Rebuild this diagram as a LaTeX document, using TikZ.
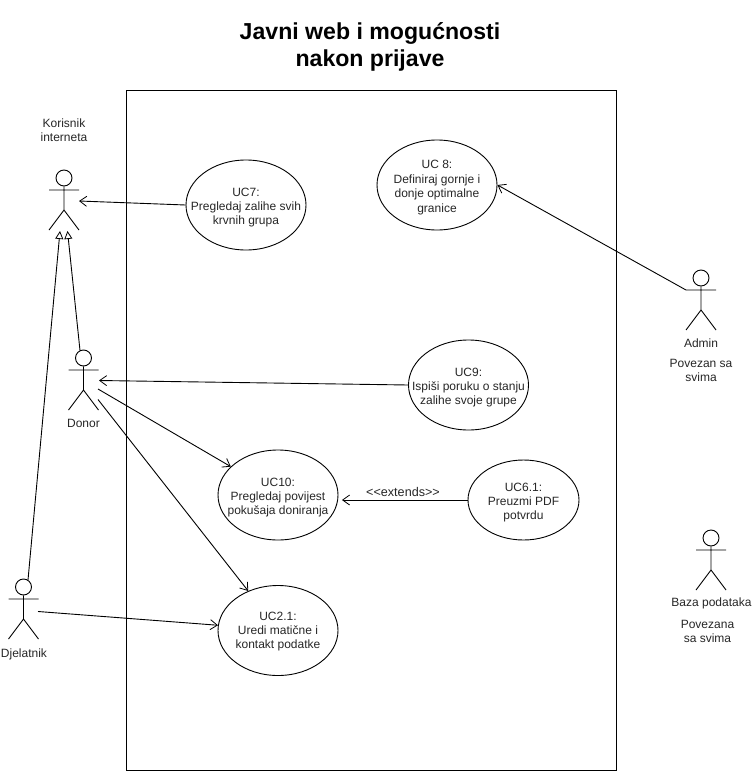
\documentclass[tikz,border=0pt]{standalone}
\usepackage{fontspec}
\setmainfont{Liberation Sans}
\usetikzlibrary{shapes.geometric,arrows.meta}
\tikzset{
  x=1pt,y=-1pt,
  line/.style={draw=black,line width=0.9pt},
  txt/.style={inner sep=0pt,align=center,font=\fontsize{12}{14.4}\selectfont,text=black!85},
  uc/.style={ellipse,line,minimum width=120pt,minimum height=90pt,inner sep=0pt},
  uctext/.style={txt,yshift=-2.5pt},
  head/.style={circle,line,minimum size=16pt,inner sep=0pt},
  assoc/.style={line,-{Straight Barb[length=7pt,width=10pt,line width=0.8pt]}},
  gen/.style={line,-{Triangle[open,length=8pt,width=8pt,fill=white,line width=0.8pt]}},
}
% #1 name, #2 x, #3 y of head centre
\newcommand{\actorfig}[3]{%
  \node[head] (#1) at (#2,#3) {};
  \coordinate (#1arml) at (#2-15,#3+12);
  \coordinate (#1armr) at (#2+15,#3+12);
  \coordinate (#1crotch) at (#2,#3+32);
  \coordinate (#1footl) at (#2-15,#3+52);
  \coordinate (#1footr) at (#2+15,#3+52);
  \draw[line] (#1.south) -- (#1crotch) (#1arml) -- (#1armr)
    (#1footl) -- (#1crotch) -- (#1footr);
}
\begin{document}
\begin{tikzpicture}
\useasboundingbox (0,0) rectangle (752,771);
\node[font=\bfseries\fontsize{23.1}{27}\selectfont,align=center,inner sep=0pt] (title) at (370,46.5) {Javni web i mogućnosti\\nakon prijave};
\node[line,minimum width=490pt,minimum height=680pt,inner sep=0pt] (sys) at (371.5,430.5) {};

\node[uc] (uc7) at (246,205) {};
\node[uctext] (uc7t) at (uc7) {UC7:\\Pregledaj zalihe svih\\krvnih grupa};
\node[uc] (uc8) at (437,185) {};
\node[uctext] (uc8t) at (uc8) {UC 8:\\Definiraj gornje i\\donje optimalne\\granice};
\node[uc] (uc9) at (468.5,385) {};
\node[uctext] (uc9t) at (uc9) {UC9:\\Ispiši poruku o stanju\\zalihe svoje grupe};
\node[uc] (uc10) at (278,495) {};
\node[uctext] (uc10t) at (uc10) {UC10:\\Pregledaj povijest\\pokušaja doniranja};
\node[uc,minimum width=111pt,minimum height=80pt] (uc61) at (523.5,500) {};
\node[uctext] (uc61t) at (uc61) {UC6.1:\\Preuzmi PDF\\potvrdu};
\node[uc] (uc21) at (278,630.5) {};
\node[uctext,yshift=1.5pt] (uc21t) at (uc21) {UC2.1:\\Uredi matične i\\kontakt podatke};

\actorfig{kor}{64}{178}
\actorfig{don}{83.5}{358}
\actorfig{dje}{23.5}{587}
\actorfig{adm}{701}{278}
\actorfig{baz}{711}{538}

\node[txt] (korl) at (64,130.5) {Korisnik\\interneta};
\node[txt] (donl) at (83.5,423) {Donor};
\node[txt] (djel) at (24,654) {Djelatnik};
\node[txt] (adml) at (701,343) {Admin};
\node[txt] (admn) at (701,370.5) {Povezan sa\\svima};
\node[txt] (bazl) at (711.5,603) {Baza podataka};
\node[txt] (bazn) at (707.5,631.5) {Povezana\\sa svima};

\coordinate (korr) at (79,201);
\coordinate (korb1) at (60,231);
\coordinate (korb2) at (67.5,231);
\coordinate (donr) at (99,380.5);
\coordinate (donr1) at (98,389);
\coordinate (donr2) at (98,399.5);
\coordinate (djer) at (38,611.5);
\coordinate (djet) at (28,580);
\coordinate (dont) at (80,350.5);

\draw[assoc] (uc7.west) -- (korr);
\draw[assoc] (admarml) -- (uc8.east);
\draw[assoc] (uc9.west) -- (donr);
\draw[assoc] (donr1) -- (uc10.149);
\draw[assoc] (donr2) -- (uc21.127);
\draw[assoc] (djer) -- (uc21.175);
\draw[assoc,shorten >=3.5pt] (uc61.west) -- (uc10.east |- uc61.west);
\node[txt,font=\fontsize{12.6}{15}\selectfont] (ext) at (403,491.5) {<{}<extends>{}>};
\draw[gen] (dont) -- (korb2);
\draw[gen] (djet) -- (korb1);
\end{tikzpicture}
\end{document}
